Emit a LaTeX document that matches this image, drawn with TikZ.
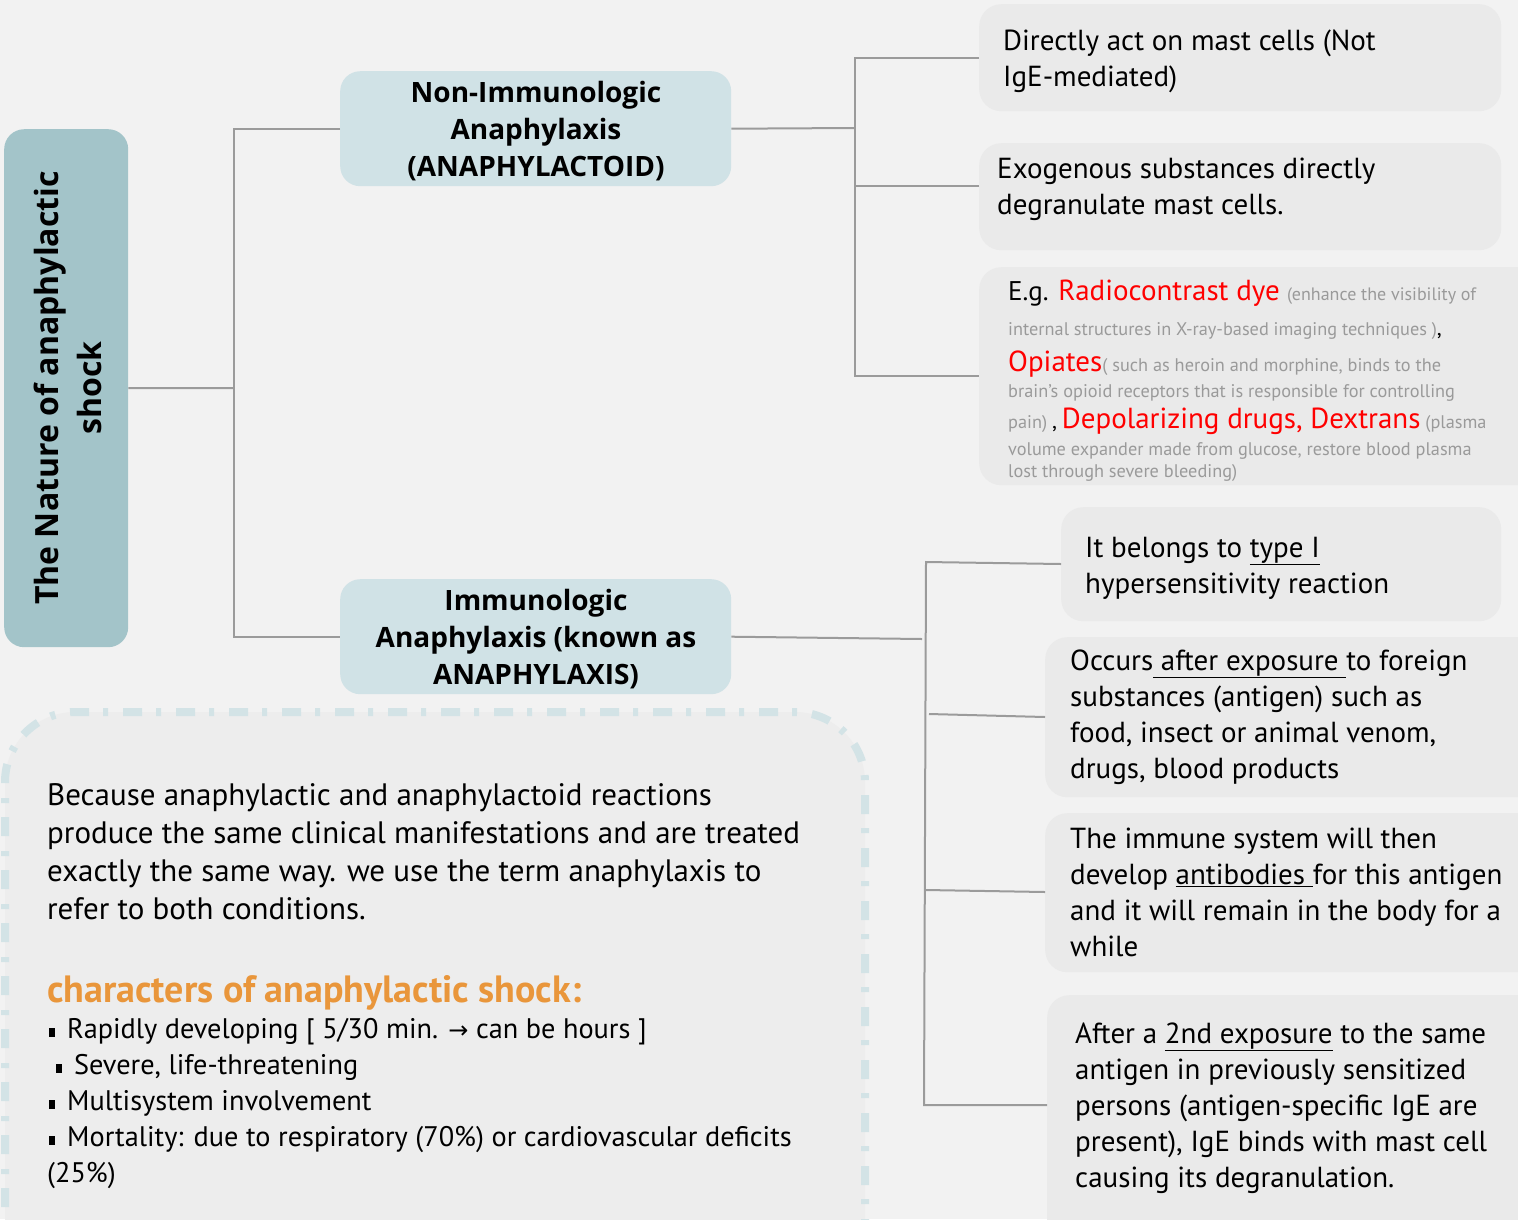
\documentclass[tikz,border=0pt]{standalone}
\usepackage{fontspec}
\setmainfont{PT Sans}
\newfontfamily\hdfont{Open Sans}
\newfontfamily\symfont{DejaVu Sans}
\definecolor{bgc}{HTML}{F2F2F2}
\definecolor{leafbg}{HTML}{EAEAEA}
\definecolor{rootbg}{HTML}{A3C4C9}
\definecolor{midbg}{HTML}{D0E2E6}
\definecolor{dashcol}{HTML}{D3E3E6}
\definecolor{notebg}{HTML}{EDEDED}
\definecolor{linecol}{HTML}{9B9B9B}
\definecolor{graytxt}{HTML}{9A9A9A}
\definecolor{redtxt}{HTML}{FF0000}
\definecolor{orangetxt}{HTML}{E9963B}
\newcommand{\fs}[2]{\fontsize{#1}{#2}\selectfont}
\newcommand{\sqb}{\raisebox{1pt}{\rule{6pt}{9pt}}\hspace*{12pt}}
\begin{document}
\begin{tikzpicture}[x=1pt,y=-1pt,
  leaf/.style={fill=leafbg, rounded corners=22pt, inner sep=0pt, draw=none, anchor=north west},
  rootbox/.style={fill=rootbg, rounded corners=20pt, inner sep=0pt, draw=none, anchor=north west},
  midbox/.style={fill=midbg, rounded corners=20pt, inner sep=0pt, draw=none, anchor=north west},
  conn/.style={draw=linecol, line width=2pt},
  txt/.style={inner sep=0pt, anchor=base west, align=left, font=\fs{29}{36}},
  gtxt/.style={inner sep=0pt, anchor=base west, font=\fs{18.3}{20}\color{graytxt}},
  hdtxt/.style={inner sep=0pt, align=center, font=\hdfont\bfseries\fs{28}{37}},
  notetxt/.style={inner sep=0pt, anchor=base west, align=left, font=\fs{31}{38}}
]
\clip (0,0) rectangle (1518,1219);
\fill[bgc] (0,0) rectangle (1518,1219);

% root
\node[rootbox, minimum width=124pt, minimum height=518pt] (root) at (4,129) {};
\node[inner sep=0pt, rotate=90, align=center, font=\hdfont\bfseries\fs{32}{43}] (roottxt) at (68,388) {The Nature of anaphylactic\\shock};

% mid boxes
\node[midbox, minimum width=391pt, minimum height=115pt] (ni) at (340,71) {};
\node[hdtxt] (nitxt) at (536,131) {Non-Immunologic\\Anaphylaxis\\(ANAPHYLACTOID)};
\node[midbox, minimum width=391pt, minimum height=115pt] (im) at (340,579) {};
\node[hdtxt] (imtxt) at (536,639) {Immunologic\\Anaphylaxis (known as\\ANAPHYLAXIS)};

% leaf boxes top group
\node[leaf, minimum width=522pt, minimum height=107pt] (b1) at (979,4) {};
\node[leaf, minimum width=522pt, minimum height=107pt] (b2) at (979,143) {};
\node[leaf, minimum width=580pt, minimum height=218pt] (b3) at (979,267) {};
% leaf boxes bottom group
\node[leaf, minimum width=440pt, minimum height=114pt] (b4) at (1061,507) {};
\node[leaf, minimum width=520pt, minimum height=160pt] (b5) at (1045,637) {};
\node[leaf, minimum width=520pt, minimum height=159pt] (b6) at (1045,813) {};
\node[leaf, minimum width=520pt, minimum height=260pt] (b7) at (1047,995) {};

% note box
\path[fill=notebg, draw=dashcol, line width=8pt, rounded corners=70pt,
  dash pattern=on 19pt off 14pt on 5pt off 15pt]
  (5,1260) -- (5,712) -- (865,712) -- (865,1260);
\node[inner sep=0pt, minimum width=860pt, minimum height=500pt, anchor=north west] (note) at (5,712) {};

% connectors
\coordinate (j0) at (234,388);
\draw[conn] (root.east) -- (j0);
\draw[conn] (ni.west) -- (ni.west -| j0) -- (im.west -| j0) -- (im.west);

\coordinate (j1) at (855,128);
\coordinate (b2in) at (979,186);
\draw[conn] (ni.east) -- (j1);
\draw[conn] (b1.west) -- (b1.west -| j1) -- (b3.west -| j1) -- (b3.west);
\draw[conn] (b2in) -- (b2in -| j1);

\coordinate (j2) at (922,639);
\coordinate (v2t) at (926,562);
\coordinate (v2b) at (924,1105);
\coordinate (b4in) at (1061,564);
\coordinate (b5in) at (1045,717);
\coordinate (b6in) at (1045,892);
\coordinate (b7in) at (1047,1105);
\draw[conn] (im.east) -- (j2);
\draw[conn] (b4in) -- (v2t) -- (v2b) -- (b7in);
\draw[conn] (929,714) -- (b5in);
\draw[conn] (926,890) -- (b6in);

% texts top group (anchor = baseline of last line)
\node[txt] (t1) at (1003,86) {Directly act on mast cells (Not\\IgE-mediated)};
\node[txt] (t2) at (997,214) {Exogenous substances directly\\degranulate mast cells.};

\node[inner sep=0pt, anchor=base west, font=\fs{27}{30}] (e1) at (1008,300) {E.g. {\color{redtxt}\fs{29}{30}Radiocontrast dye} {\color{graytxt}\fs{18}{20}(enhance the visibility of}};
\node[inner sep=0pt, anchor=base west, font=\fs{18.3}{20}] (e2) at (1008,335) {{\color{graytxt}internal structures in X-ray-based imaging techniques )}{\fs{22}{22},}};
\node[inner sep=0pt, anchor=base west, font=\fs{29}{30}] (e3) at (1008,371) {{\color{redtxt}Opiates}{\color{graytxt}\fs{18.3}{20}( such as heroin and morphine, binds to the}};
\node[gtxt] (e4) at (1008,397) {brain’s opioid receptors that is responsible for controlling};
\node[inner sep=0pt, anchor=base west, font=\fs{18.3}{20}] (e5) at (1008,428) {{\color{graytxt}pain)} {\fs{22}{22},} {\color{redtxt}\fs{29}{30}Depolarizing drugs, Dextrans} {\color{graytxt}(plasma}};
\node[gtxt] (e6) at (1008,455) {volume expander made from glucose, restore blood plasma};
\node[gtxt] (e7) at (1008,477) {lost through severe bleeding)};

% texts bottom group
\node[txt] (t4) at (1085,593) {It belongs to \underline{type I}\\hypersensitivity reaction};
\node[txt] (t5) at (1070,778) {Occurs\underline{ after exposure }to foreign\\substances (antigen) such as\\food, insect or animal venom,\\drugs, blood products};
\node[txt] (t6) at (1070,956) {The immune system will then\\develop \underline{antibodies }for this antigen\\and it will remain in the body for a\\while};
\node[txt] (t7) at (1075,1187) {After a \underline{2nd exposure} to the same\\antigen in previously sensitized\\persons (antigen-specific IgE are\\present), IgE binds with mast cell\\causing its degranulation.};

% note texts
\node[notetxt] (n1) at (47,919) {Because anaphylactic and anaphylactoid reactions\\produce the same clinical manifestations and are treated\\exactly the same way. we use the term anaphylaxis to\\refer to both conditions.};
\node[inner sep=0pt, anchor=base west, font=\bfseries\fs{38}{38}\color{orangetxt}] (n2) at (47,1002) {characters of anaphylactic shock:};
\node[inner sep=0pt, anchor=base west, align=left, font=\fs{28.3}{36}] (n3) at (49,1182) {\sqb Rapidly developing [ 5/30 min. {\symfont\fs{24}{24}→} can be hours ]\\\hspace*{7pt}\sqb Severe, life-threatening\\\sqb Multisystem involvement\\\sqb Mortality: due to respiratory (70\%) or cardiovascular deficits\\\hspace*{-2pt}(25\%)};
\end{tikzpicture}
\end{document}
